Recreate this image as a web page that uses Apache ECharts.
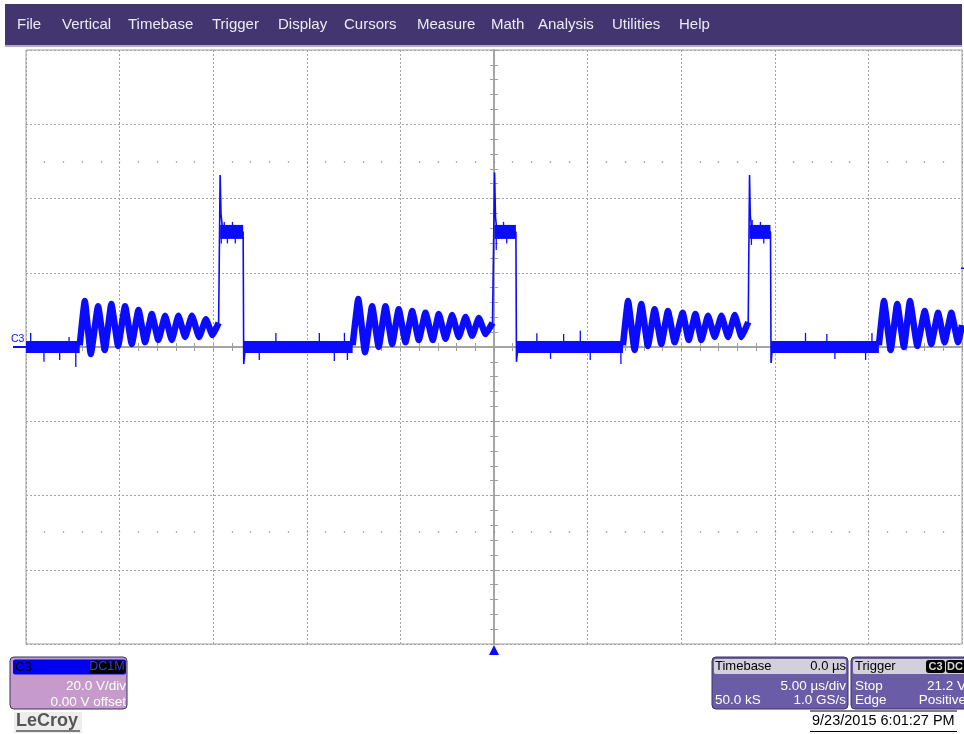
<!DOCTYPE html>
<html>
<head>
<meta charset="utf-8">
<title>C3 – LeCroy</title>
<script src="https://cdn.jsdelivr.net/npm/echarts@6/dist/echarts.min.js"></script>
<style>
  html, body { margin: 0; padding: 0; background: #ffffff; }
  #chart { width: 964px; height: 734px; }
</style>
</head>
<body>
<div id="chart"></div>
<script>
// ---- Channel C3 trace: time in µs, amplitude in V ----
const baselineVolts = 0;

// ringing bursts after each off-phase: [time, volts] turning points
const ringing = [
  [[-22.13, 0.5], [-21.86, 12.4], [-21.54, -1.9], [-21.15, 11.0], [-20.79, -0.8], [-20.44, 11.6],
   [-20.08, 0.3], [-19.71, 11.0], [-19.35, 0.8], [-18.99, 10.0], [-18.64, 1.3], [-18.28, 8.9],
   [-17.93, 1.9], [-17.57, 8.4], [-17.21, 1.9], [-16.86, 8.4], [-16.50, 2.7], [-16.14, 8.4],
   [-15.75, 2.7], [-15.39, 7.5], [-15.04, 3.2], [-14.71, 6.5]],
  [[-7.55, 0.5], [-7.25, 12.9], [-6.89, -1.4], [-6.51, 11.0], [-6.16, 0.0], [-5.80, 11.0],
   [-5.44, 0.8], [-5.09, 10.2], [-4.73, 1.3], [-4.37, 9.7], [-4.02, 1.9], [-3.66, 9.2],
   [-3.27, 1.9], [-2.95, 8.9], [-2.59, 2.2], [-2.24, 8.6], [-1.88, 2.7], [-1.52, 8.1],
   [-1.17, 3.0], [-0.81, 7.8], [-0.45, 3.5], [-0.08, 6.5]],
  [[6.89, 0.5], [7.16, 12.4], [7.51, -0.8], [7.87, 11.6], [8.22, 0.3], [8.58, 10.2],
   [8.94, 0.8], [9.29, 9.7], [9.65, 1.3], [10.08, 9.2], [10.40, 1.9], [10.76, 8.9],
   [11.08, 1.9], [11.43, 8.4], [11.79, 2.7], [12.15, 8.4], [12.50, 2.7], [12.86, 8.6],
   [13.22, 2.7], [13.58, 6.7]],
  [[20.56, 0.5], [20.83, 12.4], [21.19, -0.8], [21.54, 11.6], [21.90, 0.0], [22.22, 12.4],
   [22.61, 0.3], [23.01, 9.7], [23.36, 0.8], [23.72, 9.2], [24.07, 1.3], [24.43, 9.2],
   [24.79, 1.3], [25.00, 5.9]]
];

// switching pulses
const riseTimes       = [-14.68, 0.00, 13.61];
const spikeTimes      = [-14.63, 0.03, 13.65];
const spikeVolts      = [46.3, 47.0, 46.3];
const overshootTimes  = [-14.58, 0.08, 13.69];
const overshootVolts  = [35.5, 35.0, 35.5];
const topStartTimes   = [-14.48, 0.16, 13.78];
const topVolts        = [31.0, 31.0, 31.0];
const fallTimes       = [-13.40, 1.17, 14.77];
const undershootTimes = [-13.37, 1.20, 14.80];
const undershootVolts = [-4.6, -4.0, -4.3];
const settleTimes     = [-13.28, 1.28, 14.88];

// isolated noise excursions: [time µs, peak V, level V they leave from]
const noiseSpikes = [
  [-24.75, 3.8, 0], [-24.04, -4.0, 0], [-23.20, -3.5, 0], [-22.70, 2.7, 0], [-22.34, -5.4, 0],
  [-12.54, -3.5, 0], [-11.65, 3.8, 0], [-9.33, 3.8, 0], [-8.53, -3.8, 0], [-7.99, 3.8, 0], [-7.83, -3.5, 0],
  [2.29, 3.7, 0], [3.02, -3.2, 0], [3.72, 3.5, 0], [4.61, 4.4, 0], [5.14, -3.5, 0], [6.78, -4.6, 0],
  [16.64, 3.8, 0], [17.78, 3.5, 0], [18.21, -3.2, 0], [19.85, -3.5, 0], [20.19, 3.8, 0],
  [-14.57, 27.9, 31], [-14.41, 33.7, 31], [-14.24, 27.9, 31], [-13.97, 33.7, 31], [-13.82, 27.9, 31],
  [0.12, 26.1, 31], [0.51, 33.7, 31], [0.68, 27.9, 31],
  [13.75, 27.5, 31], [13.79, 34.2, 31], [14.23, 33.7, 31], [14.41, 27.9, 31]
];

// axis ranges / divisions
const timeRange = [-25, 25];   // 5.00 µs/div, 10 div
const voltRange = [-80, 80];   // 20.0 V/div, 8 div
const timeDiv = 5;
const voltDiv = 20;
const triggerLevel = 21.2;

// ---- menu & status text ----
const menuItems = ['File', 'Vertical', 'Timebase', 'Trigger', 'Display', 'Cursors', 'Measure',
                   'Math', 'Analysis', 'Utilities', 'Help'];
const menuX = [17, 62, 128, 212, 278, 344, 417, 491, 538, 612, 679];

// ---- build the trace ----
function buildTrace() {
  const pts = [[timeRange[0], baselineVolts]];
  ringing.forEach((burst, i) => {
    burst.forEach(p => pts.push(p));
    if (i < riseTimes.length) {
      pts.push([riseTimes[i], burst[burst.length - 1][1]]);
      pts.push([spikeTimes[i], spikeVolts[i]]);
      pts.push([overshootTimes[i], overshootVolts[i]]);
      pts.push([topStartTimes[i], topVolts[i]]);
      pts.push([fallTimes[i], topVolts[i]]);
      pts.push([undershootTimes[i], undershootVolts[i]]);
      pts.push([settleTimes[i], baselineVolts]);
    }
  });
  return pts;
}

const TRACE = '#0b0bff';
const series = [];

// off-phase noise band
const baseStarts = [timeRange[0]].concat(undershootTimes);
baseStarts.forEach((t0, i) => {
  series.push({
    type: 'line', showSymbol: false, silent: true,
    data: [[t0, baselineVolts], [ringing[i][0][0], baselineVolts]],
    lineStyle: { color: TRACE, width: 12, cap: 'butt' }
  });
});
// on-phase plateau band
riseTimes.forEach((t, i) => {
  series.push({
    type: 'line', showSymbol: false, silent: true,
    data: [[spikeTimes[i], topVolts[i]], [fallTimes[i], topVolts[i]]],
    lineStyle: { color: TRACE, width: 14, cap: 'butt' }
  });
});
// ringing bursts
ringing.forEach(burst => {
  series.push({
    type: 'line', showSymbol: false, silent: true,
    smooth: 0.12, smoothMonotone: 'x',
    data: burst,
    lineStyle: { color: TRACE, width: 6.5 }
  });
});
// full trace (edges and spikes)
series.push({
  type: 'line', showSymbol: false, silent: true,
  data: buildTrace(),
  lineStyle: { color: TRACE, width: 1.6 }
});
// noise excursions
series.push({
  type: 'custom', silent: true, clip: true,
  data: noiseSpikes,
  renderItem: function (params, api) {
    const p0 = api.coord([api.value(0), api.value(2)]);
    const p1 = api.coord([api.value(0), api.value(1)]);
    return { type: 'line', shape: { x1: p0[0], y1: p0[1], x2: p1[0], y2: p1[1] },
             style: { stroke: TRACE, lineWidth: 1.3 } };
  }
});

const GRID_COLOR = '#a4a4a4';
const AXIS_COLOR = '#a0a0a0';

function centerAxis(dim, position, onZeroIdx) {
  const isX = dim === 'x';
  return {
    type: 'value',
    position: position,
    min: isX ? timeRange[0] : voltRange[0],
    max: isX ? timeRange[1] : voltRange[1],
    interval: isX ? timeDiv : voltDiv,
    axisLine: { show: true, onZero: true, onZeroAxisIndex: onZeroIdx,
                lineStyle: { color: AXIS_COLOR, width: 1.5 } },
    axisTick: { show: true, inside: true, length: 4, lineStyle: { color: AXIS_COLOR, width: 1 } },
    minorTick: { show: true, splitNumber: 5, length: 4, lineStyle: { color: AXIS_COLOR, width: 1 } },
    axisLabel: { show: false },
    splitLine: { show: false },
    minorSplitLine: { show: false }
  };
}

// dotted division grid axis
function gridAxis(dim) {
  const a = centerAxis(dim, dim === 'x' ? 'bottom' : 'left', 0);
  a.splitLine = { show: true, lineStyle: { color: GRID_COLOR, width: 1, type: [2, 2] } };
  return a;
}

// rows of minor dots half-way between divisions
function dotAxis(position) {
  return {
    type: 'value', position: position, offset: -111.4,
    min: timeRange[0], max: timeRange[1], interval: timeDiv,
    axisLine: { show: false, onZero: false },
    axisTick: { show: true, inside: true, length: 1.3, lineStyle: { color: '#8a8a8a', width: 1.3 } },
    minorTick: { show: true, splitNumber: 5, length: 1.3, lineStyle: { color: '#8a8a8a', width: 1.3 } },
    axisLabel: { show: false },
    splitLine: { show: false }
  };
}

const chart = echarts.init(document.getElementById('chart'), null, { renderer: 'canvas' });

chart.setOption({
  animation: false,
  backgroundColor: '#ffffff',
  grid: { left: 26, top: 50, width: 936, height: 594, show: true,
          borderColor: AXIS_COLOR, borderWidth: 1, backgroundColor: 'transparent' },
  xAxis: [gridAxis('x'), centerAxis('x', 'top', 1), dotAxis('top'), dotAxis('bottom')],
  yAxis: [gridAxis('y'), centerAxis('y', 'right', 1)],
  series: series
});

// ---- overlay: menu bar, markers, status panels ----
const FONT = 'Liberation Sans, Arial, sans-serif';
function txt(x, y, s, opt) {
  opt = opt || {};
  const align = opt.align || 'left';
  return {
    type: 'text', x: x, y: y, silent: true, z: 100,
    style: {
      text: s, fill: opt.fill || '#ffffff',
      font: (opt.weight || 'normal') + ' ' + (opt.size || 13) + 'px ' + FONT,
      align: align, textAlign: align,
      verticalAlign: 'middle', textVerticalAlign: 'middle'
    }
  };
}
function rect(x, y, w, h, fill, opt) {
  opt = opt || {};
  return {
    type: 'rect', silent: true, z: opt.z || 90,
    shape: { x: x, y: y, width: w, height: h, r: opt.r || 0 },
    style: { fill: fill, stroke: opt.stroke || null, lineWidth: opt.lw || 1 }
  };
}
function hline(x1, x2, y, color, w) {
  return { type: 'line', silent: true, z: 100,
           shape: { x1: x1, y1: y, x2: x2, y2: y },
           style: { stroke: color, lineWidth: w || 1 } };
}

const zeroY = chart.convertToPixel({ yAxisIndex: 0 }, baselineVolts);
const trigX = chart.convertToPixel({ xAxisIndex: 0 }, 0);
const trigY = chart.convertToPixel({ yAxisIndex: 0 }, triggerLevel);
const rightX = chart.convertToPixel({ xAxisIndex: 0 }, timeRange[1]);
const bottomY = chart.convertToPixel({ yAxisIndex: 0 }, voltRange[0]);

const g = [];
// menu bar
g.push(rect(5, 4, 957, 41, '#433670'));
g.push(rect(5, 45, 957, 2, '#b3abcf'));
menuItems.forEach((m, i) => g.push(txt(menuX[i], 25, m, { size: 15, fill: '#ecebf4' })));

// channel marker and label
g.push(txt(11, zeroY - 8, 'C3', { size: 10.5, fill: '#0b0bff' }));
g.push(hline(13, 26, zeroY, '#0b0bff', 2));
// trigger position arrow
g.push({ type: 'polygon', silent: true, z: 100,
         shape: { points: [[trigX - 5, bottomY + 11], [trigX + 5, bottomY + 11], [trigX, bottomY + 1]] },
         style: { fill: '#0b0bff' } });
// trigger level marker
g.push(hline(rightX - 1, rightX + 3, trigY, '#0b0bff', 1.5));

// C3 channel panel
g.push(rect(10, 657, 117, 52, '#c69acb', { r: 4, stroke: '#3b3266' }));
g.push(rect(13, 659.5, 113, 15, '#0000f0', { r: 2, z: 91 }));
g.push(txt(15, 667, 'C3', { fill: '#000000' }));
g.push(rect(89, 660.5, 36, 13, '#000000', { r: 3, z: 92 }));
g.push(txt(107, 667, 'DC1M', { fill: '#3c3cd8', align: 'center', size: 12.5 }));
g.push(txt(126, 686, '20.0 V/div', { align: 'right', size: 13.5 }));
g.push(txt(126, 702, '0.00 V offset', { align: 'right', size: 13.5 }));

// LeCroy logo
g.push(rect(14, 712, 68, 21, '#ededed'));
g.push(txt(16, 721, 'LeCroy', { size: 18, weight: 'bold', fill: '#555555' }));
g.push(hline(16, 80, 731, '#555555', 1.5));

// Timebase panel
g.push(rect(712, 657, 136, 52, '#6a5ca6', { r: 4, stroke: '#3b3266' }));
g.push(rect(714, 659, 132, 15, '#d3d0dc', { r: 2, z: 91 }));
g.push(txt(715, 666.5, 'Timebase', { fill: '#000000' }));
g.push(txt(846, 666.5, '0.0 µs', { fill: '#000000', align: 'right' }));
g.push(txt(846, 686, '5.00 µs/div', { align: 'right', size: 13.5 }));
g.push(txt(715, 700, '50.0 kS', { size: 13.5 }));
g.push(txt(846, 700, '1.0 GS/s', { align: 'right', size: 13.5 }));

// Trigger panel
g.push(rect(851, 657, 130, 52, '#6a5ca6', { r: 4, stroke: '#3b3266' }));
g.push(rect(853, 659, 126, 15, '#d3d0dc', { r: 2, z: 91 }));
g.push(txt(855, 666.5, 'Trigger', { fill: '#000000' }));
g.push(rect(926, 660, 19, 13, '#000000', { r: 3, z: 92 }));
g.push(txt(935.5, 666.5, 'C3', { fill: '#d8d8d8', align: 'center', weight: 'bold', size: 11 }));
g.push(rect(946, 660, 22, 13, '#000000', { r: 3, z: 92 }));
g.push(txt(947, 666.5, 'DC', { fill: '#d8d8d8', weight: 'bold', size: 11 }));
g.push(txt(855, 686, 'Stop', { size: 13.5 }));
g.push(txt(966, 686, '21.2 V', { align: 'right', size: 13.5 }));
g.push(txt(855, 700, 'Edge', { size: 13.5 }));
g.push(txt(966, 700, 'Positive', { align: 'right', size: 13.5 }));

// timestamp
g.push(hline(810, 957, 711, '#000000', 1));
g.push(hline(810, 957, 731.5, '#000000', 1));
g.push(txt(812, 721, '9/23/2015 6:01:27 PM', { fill: '#000000', size: 14.5 }));

chart.setOption({ graphic: { elements: g } });
</script>
</body>
</html>
